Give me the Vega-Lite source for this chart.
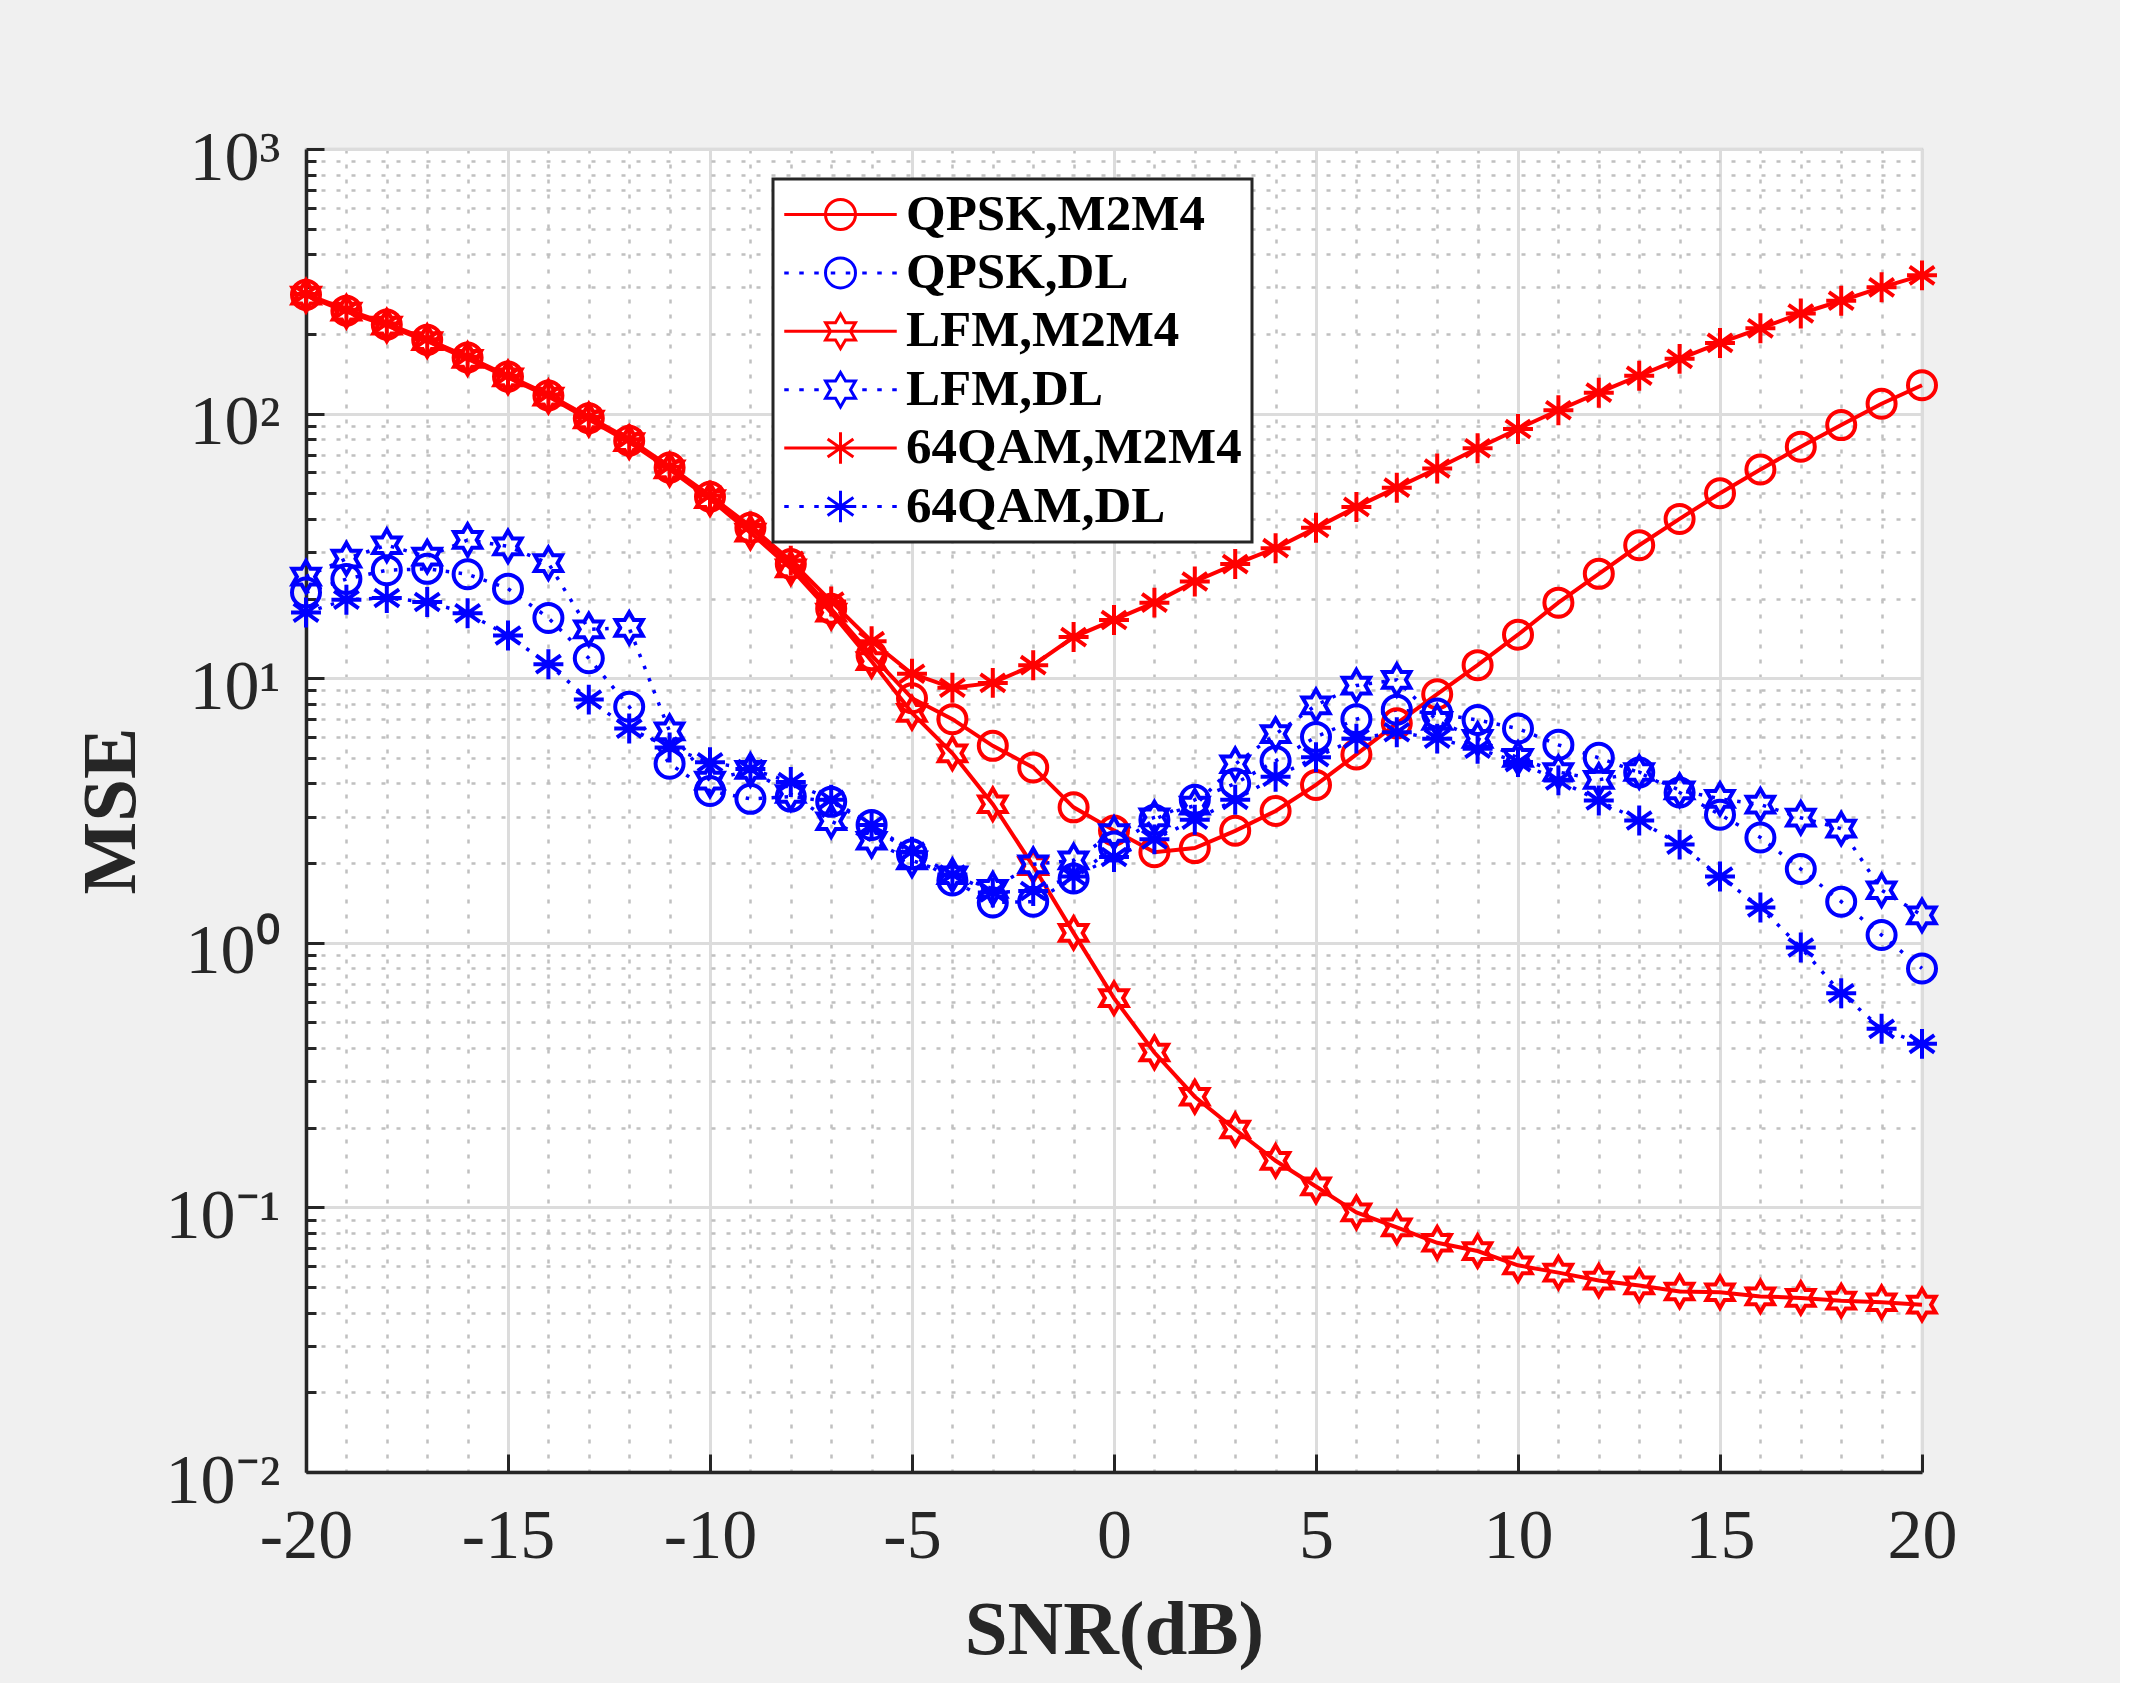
{
  "$schema": "https://vega.github.io/schema/vega-lite/v6.json",
  "width": 1616,
  "height": 1323,
  "autosize": {"type": "none"},
  "padding": {"left": 306, "top": 149, "right": 198, "bottom": 211},
  "background": "#f0f0f0",
  "config": {
    "view": {"fill": "white", "stroke": "#d0d0d0", "strokeWidth": 2.5},
    "font": "Liberation Serif",
    "legend": {"strokeWidth": 3}
  },
  "data": {"values": [
    {"s":"QPSK,M2M4","x":-20,"y":281},{"s":"QPSK,M2M4","x":-19,"y":245},{"s":"QPSK,M2M4","x":-18,"y":217},{"s":"QPSK,M2M4","x":-17,"y":190},{"s":"QPSK,M2M4","x":-16,"y":163},{"s":"QPSK,M2M4","x":-15,"y":138},{"s":"QPSK,M2M4","x":-14,"y":117},{"s":"QPSK,M2M4","x":-13,"y":96},{"s":"QPSK,M2M4","x":-12,"y":79},{"s":"QPSK,M2M4","x":-11,"y":62.5},
    {"s":"QPSK,M2M4","x":-10,"y":48.5},{"s":"QPSK,M2M4","x":-9,"y":37},{"s":"QPSK,M2M4","x":-8,"y":27},{"s":"QPSK,M2M4","x":-7,"y":18.3},{"s":"QPSK,M2M4","x":-6,"y":12.2},{"s":"QPSK,M2M4","x":-5,"y":8.4},{"s":"QPSK,M2M4","x":-4,"y":7.0},{"s":"QPSK,M2M4","x":-3,"y":5.55},{"s":"QPSK,M2M4","x":-2,"y":4.6},{"s":"QPSK,M2M4","x":-1,"y":3.25},
    {"s":"QPSK,M2M4","x":0,"y":2.66},{"s":"QPSK,M2M4","x":1,"y":2.2},{"s":"QPSK,M2M4","x":2,"y":2.28},{"s":"QPSK,M2M4","x":3,"y":2.65},{"s":"QPSK,M2M4","x":4,"y":3.15},{"s":"QPSK,M2M4","x":5,"y":3.95},{"s":"QPSK,M2M4","x":6,"y":5.15},{"s":"QPSK,M2M4","x":7,"y":6.75},{"s":"QPSK,M2M4","x":8,"y":8.7},{"s":"QPSK,M2M4","x":9,"y":11.2},
    {"s":"QPSK,M2M4","x":10,"y":14.6},{"s":"QPSK,M2M4","x":11,"y":19.3},{"s":"QPSK,M2M4","x":12,"y":24.8},{"s":"QPSK,M2M4","x":13,"y":31.8},{"s":"QPSK,M2M4","x":14,"y":40},{"s":"QPSK,M2M4","x":15,"y":50},{"s":"QPSK,M2M4","x":16,"y":61.5},{"s":"QPSK,M2M4","x":17,"y":75},{"s":"QPSK,M2M4","x":18,"y":90.5},{"s":"QPSK,M2M4","x":19,"y":109},{"s":"QPSK,M2M4","x":20,"y":128},

    {"s":"QPSK,DL","x":-20,"y":21.1},{"s":"QPSK,DL","x":-19,"y":23.7},{"s":"QPSK,DL","x":-18,"y":25.6},{"s":"QPSK,DL","x":-17,"y":25.9},{"s":"QPSK,DL","x":-16,"y":24.7},{"s":"QPSK,DL","x":-15,"y":21.8},{"s":"QPSK,DL","x":-14,"y":16.9},{"s":"QPSK,DL","x":-13,"y":11.9},{"s":"QPSK,DL","x":-12,"y":7.8},{"s":"QPSK,DL","x":-11,"y":4.75},
    {"s":"QPSK,DL","x":-10,"y":3.75},{"s":"QPSK,DL","x":-9,"y":3.5},{"s":"QPSK,DL","x":-8,"y":3.57},{"s":"QPSK,DL","x":-7,"y":3.41},{"s":"QPSK,DL","x":-6,"y":2.79},{"s":"QPSK,DL","x":-5,"y":2.16},{"s":"QPSK,DL","x":-4,"y":1.72},{"s":"QPSK,DL","x":-3,"y":1.42},{"s":"QPSK,DL","x":-2,"y":1.43},{"s":"QPSK,DL","x":-1,"y":1.75},
    {"s":"QPSK,DL","x":0,"y":2.31},{"s":"QPSK,DL","x":1,"y":2.92},{"s":"QPSK,DL","x":2,"y":3.47},{"s":"QPSK,DL","x":3,"y":4.0},{"s":"QPSK,DL","x":4,"y":4.87},{"s":"QPSK,DL","x":5,"y":6.0},{"s":"QPSK,DL","x":6,"y":7.0},{"s":"QPSK,DL","x":7,"y":7.6},{"s":"QPSK,DL","x":8,"y":7.35},{"s":"QPSK,DL","x":9,"y":6.95},
    {"s":"QPSK,DL","x":10,"y":6.45},{"s":"QPSK,DL","x":11,"y":5.6},{"s":"QPSK,DL","x":12,"y":5.0},{"s":"QPSK,DL","x":13,"y":4.4},{"s":"QPSK,DL","x":14,"y":3.7},{"s":"QPSK,DL","x":15,"y":3.05},{"s":"QPSK,DL","x":16,"y":2.5},{"s":"QPSK,DL","x":17,"y":1.9},{"s":"QPSK,DL","x":18,"y":1.43},{"s":"QPSK,DL","x":19,"y":1.07},{"s":"QPSK,DL","x":20,"y":0.8},

    {"s":"LFM,M2M4","x":-20,"y":279},{"s":"LFM,M2M4","x":-19,"y":243},{"s":"LFM,M2M4","x":-18,"y":215},{"s":"LFM,M2M4","x":-17,"y":188},{"s":"LFM,M2M4","x":-16,"y":161},{"s":"LFM,M2M4","x":-15,"y":137},{"s":"LFM,M2M4","x":-14,"y":116},{"s":"LFM,M2M4","x":-13,"y":95},{"s":"LFM,M2M4","x":-12,"y":78},{"s":"LFM,M2M4","x":-11,"y":61.5},
    {"s":"LFM,M2M4","x":-10,"y":47.5},{"s":"LFM,M2M4","x":-9,"y":35.5},{"s":"LFM,M2M4","x":-8,"y":26},{"s":"LFM,M2M4","x":-7,"y":17.7},{"s":"LFM,M2M4","x":-6,"y":11.6},{"s":"LFM,M2M4","x":-5,"y":7.4},{"s":"LFM,M2M4","x":-4,"y":5.2},{"s":"LFM,M2M4","x":-3,"y":3.34},{"s":"LFM,M2M4","x":-2,"y":1.95},{"s":"LFM,M2M4","x":-1,"y":1.09},
    {"s":"LFM,M2M4","x":0,"y":0.618},{"s":"LFM,M2M4","x":1,"y":0.385},{"s":"LFM,M2M4","x":2,"y":0.262},{"s":"LFM,M2M4","x":3,"y":0.197},{"s":"LFM,M2M4","x":4,"y":0.15},{"s":"LFM,M2M4","x":5,"y":0.12},{"s":"LFM,M2M4","x":6,"y":0.0957},{"s":"LFM,M2M4","x":7,"y":0.0841},{"s":"LFM,M2M4","x":8,"y":0.0735},{"s":"LFM,M2M4","x":9,"y":0.0684},
    {"s":"LFM,M2M4","x":10,"y":0.0604},{"s":"LFM,M2M4","x":11,"y":0.0567},{"s":"LFM,M2M4","x":12,"y":0.0529},{"s":"LFM,M2M4","x":13,"y":0.0507},{"s":"LFM,M2M4","x":14,"y":0.0481},{"s":"LFM,M2M4","x":15,"y":0.0478},{"s":"LFM,M2M4","x":16,"y":0.0461},{"s":"LFM,M2M4","x":17,"y":0.0455},{"s":"LFM,M2M4","x":18,"y":0.0444},{"s":"LFM,M2M4","x":19,"y":0.0438},{"s":"LFM,M2M4","x":20,"y":0.0429},

    {"s":"LFM,DL","x":-20,"y":24.2},{"s":"LFM,DL","x":-19,"y":28.3},{"s":"LFM,DL","x":-18,"y":31.8},{"s":"LFM,DL","x":-17,"y":28.8},{"s":"LFM,DL","x":-16,"y":33.3},{"s":"LFM,DL","x":-15,"y":31.5},{"s":"LFM,DL","x":-14,"y":27.2},{"s":"LFM,DL","x":-13,"y":15.3},{"s":"LFM,DL","x":-12,"y":15.5},{"s":"LFM,DL","x":-11,"y":6.3},
    {"s":"LFM,DL","x":-10,"y":4.1},{"s":"LFM,DL","x":-9,"y":4.5},{"s":"LFM,DL","x":-8,"y":3.65},{"s":"LFM,DL","x":-7,"y":2.88},{"s":"LFM,DL","x":-6,"y":2.43},{"s":"LFM,DL","x":-5,"y":2.05},{"s":"LFM,DL","x":-4,"y":1.8},{"s":"LFM,DL","x":-3,"y":1.6},{"s":"LFM,DL","x":-2,"y":1.98},{"s":"LFM,DL","x":-1,"y":2.05},
    {"s":"LFM,DL","x":0,"y":2.6},{"s":"LFM,DL","x":1,"y":2.98},{"s":"LFM,DL","x":2,"y":3.3},{"s":"LFM,DL","x":3,"y":4.73},{"s":"LFM,DL","x":4,"y":6.15},{"s":"LFM,DL","x":5,"y":7.9},{"s":"LFM,DL","x":6,"y":9.38},{"s":"LFM,DL","x":7,"y":9.86},{"s":"LFM,DL","x":8,"y":6.9},{"s":"LFM,DL","x":9,"y":5.9},
    {"s":"LFM,DL","x":10,"y":5.0},{"s":"LFM,DL","x":11,"y":4.42},{"s":"LFM,DL","x":12,"y":4.13},{"s":"LFM,DL","x":13,"y":4.42},{"s":"LFM,DL","x":14,"y":3.77},{"s":"LFM,DL","x":15,"y":3.5},{"s":"LFM,DL","x":16,"y":3.33},{"s":"LFM,DL","x":17,"y":2.97},{"s":"LFM,DL","x":18,"y":2.7},{"s":"LFM,DL","x":19,"y":1.58},{"s":"LFM,DL","x":20,"y":1.27},

    {"s":"64QAM,M2M4","x":-20,"y":283},{"s":"64QAM,M2M4","x":-19,"y":247},{"s":"64QAM,M2M4","x":-18,"y":219},{"s":"64QAM,M2M4","x":-17,"y":191},{"s":"64QAM,M2M4","x":-16,"y":164},{"s":"64QAM,M2M4","x":-15,"y":139},{"s":"64QAM,M2M4","x":-14,"y":118},{"s":"64QAM,M2M4","x":-13,"y":97},{"s":"64QAM,M2M4","x":-12,"y":80},{"s":"64QAM,M2M4","x":-11,"y":63},
    {"s":"64QAM,M2M4","x":-10,"y":49},{"s":"64QAM,M2M4","x":-9,"y":37.5},{"s":"64QAM,M2M4","x":-8,"y":27.8},{"s":"64QAM,M2M4","x":-7,"y":19.5},{"s":"64QAM,M2M4","x":-6,"y":13.8},{"s":"64QAM,M2M4","x":-5,"y":10.4},{"s":"64QAM,M2M4","x":-4,"y":9.2},{"s":"64QAM,M2M4","x":-3,"y":9.6},{"s":"64QAM,M2M4","x":-2,"y":11.2},{"s":"64QAM,M2M4","x":-1,"y":14.3},
    {"s":"64QAM,M2M4","x":0,"y":16.6},{"s":"64QAM,M2M4","x":1,"y":19.3},{"s":"64QAM,M2M4","x":2,"y":23.2},{"s":"64QAM,M2M4","x":3,"y":27},{"s":"64QAM,M2M4","x":4,"y":31},{"s":"64QAM,M2M4","x":5,"y":37},{"s":"64QAM,M2M4","x":6,"y":44.4},{"s":"64QAM,M2M4","x":7,"y":52.5},{"s":"64QAM,M2M4","x":8,"y":62},{"s":"64QAM,M2M4","x":9,"y":74},
    {"s":"64QAM,M2M4","x":10,"y":87.5},{"s":"64QAM,M2M4","x":11,"y":103},{"s":"64QAM,M2M4","x":12,"y":120},{"s":"64QAM,M2M4","x":13,"y":139},{"s":"64QAM,M2M4","x":14,"y":161},{"s":"64QAM,M2M4","x":15,"y":185},{"s":"64QAM,M2M4","x":16,"y":210},{"s":"64QAM,M2M4","x":17,"y":239},{"s":"64QAM,M2M4","x":18,"y":267},{"s":"64QAM,M2M4","x":19,"y":300},{"s":"64QAM,M2M4","x":20,"y":333},

    {"s":"64QAM,DL","x":-20,"y":17.7},{"s":"64QAM,DL","x":-19,"y":19.8},{"s":"64QAM,DL","x":-18,"y":20.1},{"s":"64QAM,DL","x":-17,"y":19.4},{"s":"64QAM,DL","x":-16,"y":17.6},{"s":"64QAM,DL","x":-15,"y":14.5},{"s":"64QAM,DL","x":-14,"y":11.3},{"s":"64QAM,DL","x":-13,"y":8.3},{"s":"64QAM,DL","x":-12,"y":6.45},{"s":"64QAM,DL","x":-11,"y":5.47},
    {"s":"64QAM,DL","x":-10,"y":4.81},{"s":"64QAM,DL","x":-9,"y":4.54},{"s":"64QAM,DL","x":-8,"y":4.05},{"s":"64QAM,DL","x":-7,"y":3.47},{"s":"64QAM,DL","x":-6,"y":2.79},{"s":"64QAM,DL","x":-5,"y":2.21},{"s":"64QAM,DL","x":-4,"y":1.81},{"s":"64QAM,DL","x":-3,"y":1.55},{"s":"64QAM,DL","x":-2,"y":1.57},{"s":"64QAM,DL","x":-1,"y":1.78},
    {"s":"64QAM,DL","x":0,"y":2.11},{"s":"64QAM,DL","x":1,"y":2.46},{"s":"64QAM,DL","x":2,"y":2.92},{"s":"64QAM,DL","x":3,"y":3.47},{"s":"64QAM,DL","x":4,"y":4.24},{"s":"64QAM,DL","x":5,"y":5.03},{"s":"64QAM,DL","x":6,"y":5.91},{"s":"64QAM,DL","x":7,"y":6.25},{"s":"64QAM,DL","x":8,"y":5.91},{"s":"64QAM,DL","x":9,"y":5.41},
    {"s":"64QAM,DL","x":10,"y":4.82},{"s":"64QAM,DL","x":11,"y":4.11},{"s":"64QAM,DL","x":12,"y":3.45},{"s":"64QAM,DL","x":13,"y":2.9},{"s":"64QAM,DL","x":14,"y":2.35},{"s":"64QAM,DL","x":15,"y":1.78},{"s":"64QAM,DL","x":16,"y":1.36},{"s":"64QAM,DL","x":17,"y":0.96},{"s":"64QAM,DL","x":18,"y":0.645},{"s":"64QAM,DL","x":19,"y":0.473},{"s":"64QAM,DL","x":20,"y":0.415}
  ]},
  "layer": [
    {
      "transform": [{"filter": "indexof(datum.s, 'M2M4') >= 0"}],
      "mark": {"type": "line", "color": "#ff0000", "strokeWidth": 4},
      "encoding": {
        "x": {"field": "x", "type": "quantitative",
          "scale": {"domain": [-20, 20], "nice": false, "zero": false},
          "axis": {"orient": "bottom", "values": [-20,-19,-18,-17,-16,-15,-14,-13,-12,-11,-10,-9,-8,-7,-6,-5,-4,-3,-2,-1,0,1,2,3,4,5,6,7,8,9,10,11,12,13,14,15,16,17,18,19,20],
            "grid": true, "gridDash": [4, 11], "gridColor": "#c0c0c0", "gridWidth": 2.5,
            "ticks": false, "labels": false, "domain": false, "title": null}},
        "y": {"field": "y", "type": "quantitative",
          "scale": {"type": "log", "domain": [0.01, 1000], "nice": false},
          "axis": {"orient": "left", "values": [0.02,0.03,0.04,0.05,0.06,0.07,0.08,0.09,0.2,0.3,0.4,0.5,0.6,0.7,0.8,0.9,2,3,4,5,6,7,8,9,20,30,40,50,60,70,80,90,200,300,400,500,600,700,800,900],
            "grid": true, "gridDash": [4, 11], "gridColor": "#c0c0c0", "gridWidth": 2.5,
            "ticks": true, "tickSize": -10, "tickColor": "#262626", "tickWidth": 3,
            "labels": false, "domain": false, "title": null}},
        "detail": {"field": "s"}
      }
    },
    {
      "transform": [{"filter": "indexof(datum.s, 'DL') >= 0"}],
      "mark": {"type": "line", "color": "#0000ff", "strokeWidth": 3.5, "strokeDash": [3.5, 9.5]},
      "encoding": {
        "x": {"field": "x", "type": "quantitative",
          "scale": {"domain": [-20, 20], "nice": false, "zero": false},
          "axis": {"orient": "bottom", "values": [-20,-15,-10,-5,0,5,10,15,20],
            "grid": true, "gridColor": "#dcdcdc", "gridWidth": 3,
            "ticks": true, "tickSize": -18, "tickColor": "#262626", "tickWidth": 3,
            "domain": true, "domainColor": "#262626", "domainWidth": 3.5,
            "labelExpr": "'' + datum.value", "labelFlush": false, "labelOverlap": false,
            "labelFont": "Liberation Serif", "labelFontSize": 70, "labelColor": "#262626", "labelPadding": 48,
            "title": "SNR(dB)", "titleFont": "Liberation Serif", "titleFontSize": 77, "titleFontWeight": "bold",
            "titleColor": "#262626", "titleY": 181, "titleBaseline": "alphabetic"}},
        "y": {"field": "y", "type": "quantitative",
          "scale": {"type": "log", "domain": [0.01, 1000], "nice": false},
          "axis": {"orient": "left", "values": [0.01, 0.1, 1, 10, 100, 1000],
            "grid": true, "gridColor": "#dcdcdc", "gridWidth": 3,
            "ticks": true, "tickSize": -18, "tickColor": "#262626", "tickWidth": 3,
            "domain": true, "domainColor": "#262626", "domainWidth": 3.5,
            "labelExpr": "datum.value >= 500 ? '10³' : datum.value >= 50 ? '10²' : datum.value >= 5 ? '10¹' : datum.value >= 0.5 ? '10⁰' : datum.value >= 0.05 ? '10⁻¹' : '10⁻²'",
            "labelFlush": false, "labelOverlap": false,
            "labelFont": "Liberation Serif", "labelFontSize": 70, "labelColor": "#262626",
            "labelBaseline": "alphabetic", "labelOffset": 30, "labelPadding": 44,
            "title": "MSE", "titleFont": "Liberation Serif", "titleFontSize": 77, "titleFontWeight": "bold",
            "titleColor": "#262626", "titleX": -172, "titleBaseline": "alphabetic"}},
        "detail": {"field": "s"}
      }
    },
    {
      "mark": {"type": "point", "filled": false, "size": 784, "strokeWidth": 4, "opacity": 1},
      "encoding": {
        "x": {"field": "x", "type": "quantitative", "scale": {"domain": [-20, 20], "nice": false, "zero": false}, "axis": null},
        "y": {"field": "y", "type": "quantitative", "scale": {"type": "log", "domain": [0.01, 1000], "nice": false}, "axis": null},
        "shape": {"field": "s", "type": "nominal",
          "scale": {"domain": ["QPSK,M2M4","QPSK,DL","LFM,M2M4","LFM,DL","64QAM,M2M4","64QAM,DL"],
            "range": [
              "M1,0A1,1,0,1,1,-1,0A1,1,0,1,1,1,0Z",
              "M1,0A1,1,0,1,1,-1,0A1,1,0,1,1,1,0Z",
              "M0,-1.12L0.323,-0.56L0.97,-0.56L0.647,0L0.97,0.56L0.323,0.56L0,1.12L-0.323,0.56L-0.97,0.56L-0.647,0L-0.97,-0.56L-0.323,-0.56Z",
              "M0,-1.12L0.323,-0.56L0.97,-0.56L0.647,0L0.97,0.56L0.323,0.56L0,1.12L-0.323,0.56L-0.97,0.56L-0.647,0L-0.97,-0.56L-0.323,-0.56Z",
              "M0,-1.07L0,1.07M-1.07,0L1.07,0M-0.88,-0.62L0.88,0.62M-0.88,0.62L0.88,-0.62",
              "M0,-1.07L0,1.07M-1.07,0L1.07,0M-0.88,-0.62L0.88,0.62M-0.88,0.62L0.88,-0.62"]},
          "legend": null},
        "color": {"field": "s", "type": "nominal",
          "scale": {"domain": ["QPSK,M2M4","QPSK,DL","LFM,M2M4","LFM,DL","64QAM,M2M4","64QAM,DL"],
            "range": ["#ff0000","#0000ff","#ff0000","#0000ff","#ff0000","#0000ff"]},
          "legend": null}
      }
    },
    {
      "transform": [{"filter": "false"}],
      "mark": {"type": "point", "filled": false, "size": 900, "strokeWidth": 3, "opacity": 1},
      "encoding": {
        "x": {"field": "x", "type": "quantitative", "scale": {"domain": [-20, 20], "nice": false, "zero": false}, "axis": null},
        "y": {"field": "y", "type": "quantitative", "scale": {"type": "log", "domain": [0.01, 1000], "nice": false}, "axis": null},
        "shape": {"field": "s", "type": "nominal",
          "scale": {"domain": ["QPSK,M2M4","QPSK,DL","LFM,M2M4","LFM,DL","64QAM,M2M4","64QAM,DL"],
            "range": [
              "M-3.75,0L3.75,0M1,0A1,1,0,1,1,-1,0A1,1,0,1,1,1,0Z",
              "M-3.75,0L-3.45,0M-2.75,0L-2.45,0M-1.75,0L-1.45,0M-0.65,0L-0.35,0M0.35,0L0.65,0M1.45,0L1.75,0M2.45,0L2.75,0M3.45,0L3.75,0M1,0A1,1,0,1,1,-1,0A1,1,0,1,1,1,0Z",
              "M-3.75,0L3.75,0M0,-1.15L0.332,-0.575L0.996,-0.575L0.664,0L0.996,0.575L0.332,0.575L0,1.15L-0.332,0.575L-0.996,0.575L-0.664,0L-0.996,-0.575L-0.332,-0.575Z",
              "M-3.75,0L-3.45,0M-2.75,0L-2.45,0M-1.75,0L-1.45,0M1.45,0L1.75,0M2.45,0L2.75,0M3.45,0L3.75,0M0,-1.15L0.332,-0.575L0.996,-0.575L0.664,0L0.996,0.575L0.332,0.575L0,1.15L-0.332,0.575L-0.996,0.575L-0.664,0L-0.996,-0.575L-0.332,-0.575Z",
              "M-3.75,0L3.75,0M0,-1.05L0,1.05M-0.86,-0.6L0.86,0.6M-0.86,0.6L0.86,-0.6",
              "M-3.75,0L-3.45,0M-2.75,0L-2.45,0M-1.75,0L-1.45,0M1.45,0L1.75,0M2.45,0L2.75,0M3.45,0L3.75,0M0,-1.05L0,1.05M-1.05,0L1.05,0M-0.86,-0.6L0.86,0.6M-0.86,0.6L0.86,-0.6"]},
          "legend": {
            "title": null, "orient": "none", "legendX": 467, "legendY": 30,
            "padding": 10, "rowPadding": 6.4,
            "strokeColor": "#262626", "fillColor": "#ffffff",
            "labelFont": "Liberation Serif", "labelFontSize": 51, "labelFontWeight": "bold", "labelColor": "#000000", "labelLimit": 800,
            "symbolSize": 900, "symbolStrokeWidth": 3, "symbolOffset": 32, "labelOffset": 40}},
        "color": {"field": "s", "type": "nominal",
          "scale": {"domain": ["QPSK,M2M4","QPSK,DL","LFM,M2M4","LFM,DL","64QAM,M2M4","64QAM,DL"],
            "range": ["#ff0000","#0000ff","#ff0000","#0000ff","#ff0000","#0000ff"]},
          "legend": {
            "title": null, "orient": "none", "legendX": 467, "legendY": 30,
            "padding": 10, "rowPadding": 6.4,
            "strokeColor": "#262626", "fillColor": "#ffffff",
            "labelFont": "Liberation Serif", "labelFontSize": 51, "labelFontWeight": "bold", "labelColor": "#000000", "labelLimit": 800,
            "symbolSize": 900, "symbolStrokeWidth": 3, "symbolOffset": 32, "labelOffset": 40}}
      }
    }
  ],
  "resolve": {
    "axis": {"x": "independent", "y": "independent"},
    "scale": {"shape": "independent", "color": "independent"}
  }
}
